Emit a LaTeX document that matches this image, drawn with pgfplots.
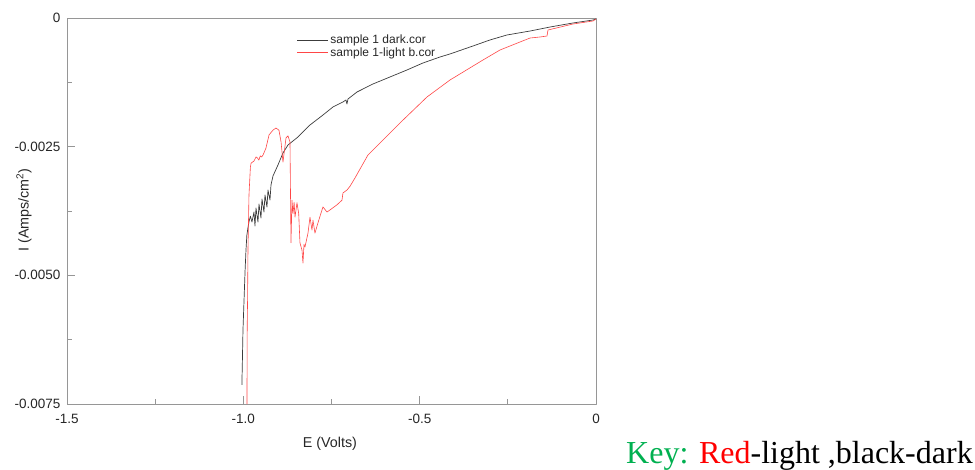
\documentclass[border=0pt]{standalone}
\usepackage{pgfplots}
\pgfplotsset{compat=1.18}
\usepackage{fontspec}
\setmainfont{Liberation Sans}
\newfontfamily\keyfont{Liberation Serif}

\definecolor{axisgray}{RGB}{150,150,150}
\definecolor{darkcurve}{RGB}{60,60,60}
\definecolor{lightcurve}{RGB}{255,70,70}
\definecolor{keygreen}{RGB}{0,176,80}

% Polarisation scans: E (V) vs I (A/cm^2)
\pgfplotstableread{
E        I
-1.0040 -0.007130
-1.0038 -0.007030
-1.0025 -0.006600
-1.0010 -0.006060
-0.9980 -0.005480
-0.9950 -0.004900
-0.9925 -0.004510
-0.9900 -0.004220
-0.9870 -0.004080
-0.9840 -0.003960
-0.9800 -0.003850
-0.9755 -0.003964
-0.9698 -0.003769
-0.9670 -0.004041
-0.9641 -0.003692
-0.9585 -0.003964
-0.9556 -0.003614
-0.9500 -0.003886
-0.9471 -0.003517
-0.9415 -0.003769
-0.9386 -0.003439
-0.9330 -0.003672
-0.9301 -0.003342
-0.9244 -0.003536
-0.9216 -0.003245
-0.9159 -0.003070
-0.9100 -0.002980
-0.9018 -0.002856
-0.8876 -0.002623
-0.8734 -0.002467
-0.8592 -0.002390
-0.8451 -0.002312
-0.8309 -0.002215
-0.8110 -0.002079
-0.7742 -0.001885
-0.7459 -0.001729
-0.7175 -0.001632
-0.7090 -0.001593
-0.7061 -0.001671
-0.7033 -0.001574
-0.6778 -0.001438
-0.6324 -0.001282
-0.5842 -0.001146
-0.5360 -0.001010
-0.4906 -0.000874
-0.4425 -0.000758
-0.4141 -0.000699
-0.3489 -0.000544
-0.3007 -0.000427
-0.2525 -0.000330
-0.1871 -0.000253
-0.1304 -0.000175
-0.0654 -0.000097
-0.0085 -0.000039
 0.0000 -0.000019
}\darkscan

\pgfplotstableread{
E        I
-0.9897 -0.007500
-0.9890 -0.006000
-0.9880 -0.005480
-0.9868 -0.004500
-0.9840 -0.003440
-0.9800 -0.002900
-0.9780 -0.002820
-0.9700 -0.002780
-0.9640 -0.002700
-0.9600 -0.002720
-0.9560 -0.002760
-0.9520 -0.002680
-0.9480 -0.002700
-0.9440 -0.002660
-0.9360 -0.002530
-0.9270 -0.002270
-0.9160 -0.002180
-0.9075 -0.002137
-0.8990 -0.002180
-0.8930 -0.002410
-0.8876 -0.002800
-0.8790 -0.002330
-0.8734 -0.002290
-0.8677 -0.002410
-0.8649 -0.004370
-0.8620 -0.003540
-0.8592 -0.003800
-0.8560 -0.003580
-0.8535 -0.003870
-0.8479 -0.003590
-0.8430 -0.003800
-0.8394 -0.004370
-0.8337 -0.004510
-0.8309 -0.004760
-0.8280 -0.004400
-0.8252 -0.004450
-0.8167 -0.004180
-0.8110 -0.003870
-0.8054 -0.004120
-0.8025 -0.003930
-0.7969 -0.004180
-0.7884 -0.003980
-0.7770 -0.003730
-0.7742 -0.003670
-0.7629 -0.003770
-0.7544 -0.003730
-0.7345 -0.003630
-0.7203 -0.003540
-0.7175 -0.003400
-0.7061 -0.003342
-0.6976 -0.003270
-0.6835 -0.003109
-0.6466 -0.002662
-0.6409 -0.002623
-0.6126 -0.002429
-0.5559 -0.002040
-0.4793 -0.001535
-0.4141 -0.001205
-0.3205 -0.000816
-0.2723 -0.000622
-0.1871 -0.000389
-0.1588 -0.000369
-0.1390 -0.000350
-0.1361 -0.000233
-0.0654 -0.000117
-0.0085 -0.000058
 0.0000 -0.000019
}\lightscan

\begin{document}
\begin{tikzpicture}
\path[use as bounding box] (0pt,0pt) rectangle (975pt,-470pt);
\begin{axis}[
  at={(67pt,-404pt)}, anchor=south west,
  scale only axis, width=529pt, height=386pt,
  xmin=-1.5, xmax=0, ymin=-0.0075, ymax=0,
  axis line style={axisgray, line width=0.8pt},
  tick style={axisgray, line width=0.8pt},
  tick align=inside, tick pos=left,
  major tick length=8pt, minor tick length=5pt,
  xtick={-1.5,-1,-0.5,0}, xticklabels={-1.5,-1.0,-0.5,0},
  minor xtick={-1.25,-0.75,-0.25},
  ytick={-0.0075,-0.005,-0.0025,0},
  yticklabels={-0.0075,-0.0050,-0.0025,0},
  minor ytick={-0.00625,-0.00375,-0.00125},
  scaled y ticks=false,
  ticklabel style={font=\fontsize{13.5}{16}\selectfont, text=black!85},
  xticklabel style={yshift=-6.5pt},
  yticklabel style={xshift=-3pt},
  xlabel={E (Volts)}, ylabel={I (Amps/cm\textsuperscript{2})},
  label style={font=\fontsize{14.3}{17}\selectfont, text=black!85},
  xlabel style={at={(axis description cs:0.497,-0.104)}, anchor=center},
  ylabel style={at={(axis description cs:-0.0813,0.503)}, anchor=center},
  legend style={at={(axis description cs:0.434,0.962)}, anchor=north west,
    draw=none, fill=none, font=\fontsize{12}{14}\selectfont,
    text=black!85, row sep=-1.5pt, inner sep=0pt},
  legend cell align=left,
  legend image code/.code={\draw[#1] (0pt,0pt) -- (26pt,0pt); \path (0pt,0pt) -- (31pt,0pt);},
  line join=round,
]
\addplot[darkcurve, line width=0.7pt] table[x=E, y=I] {\darkscan};
\addlegendentry{sample 1 dark.cor}
\addplot[lightcurve, line width=0.6pt] table[x=E, y=I] {\lightscan};
\addlegendentry{sample 1-light b.cor}
\end{axis}
\node[anchor=base west, inner sep=0pt, font=\keyfont\fontsize{32}{38}\selectfont]
  at (626pt,-463pt) {\textcolor{keygreen}{Key:} \textcolor{red}{Red}-light ,black-dark};
\end{tikzpicture}
\end{document}
